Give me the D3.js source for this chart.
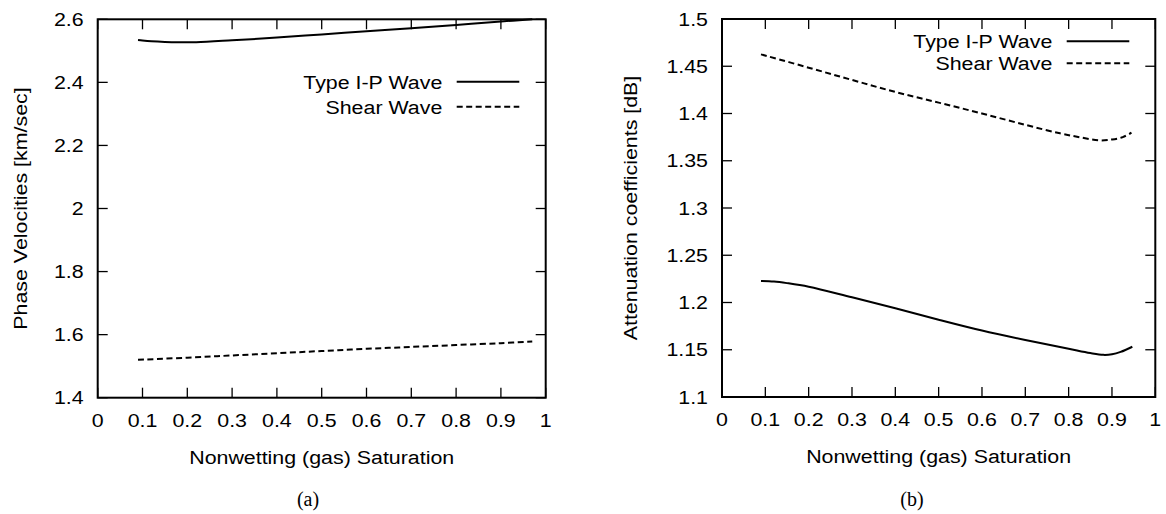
<!DOCTYPE html>
<html>
<head>
<meta charset="utf-8">
<script src="https://cdn.jsdelivr.net/npm/d3@7"></script>
<style>
  body { margin: 0; background: #fff; }
  svg { display: block; }
</style>
</head>
<body>
<svg id="chart" width="1166" height="514"></svg>
<script>
// ---- data ----
var xTicks = [0, 0.1, 0.2, 0.3, 0.4, 0.5, 0.6, 0.7, 0.8, 0.9, 1];
var xTickLabels = ["0", "0.1", "0.2", "0.3", "0.4", "0.5", "0.6", "0.7", "0.8", "0.9", "1"];

// (a) phase velocities
var velTicks = [1.4, 1.6, 1.8, 2.0, 2.2, 2.4, 2.6];
var velTickLabels = ["1.4", "1.6", "1.8", "2", "2.2", "2.4", "2.6"];
var satVelP = [0.09, 0.1, 0.12, 0.15, 0.18, 0.22, 0.3, 0.4, 0.5, 0.6, 0.7, 0.8, 0.9, 0.97];
var velP = [2.534, 2.5325, 2.5302, 2.5282, 2.5273, 2.5276, 2.5335, 2.542, 2.552, 2.562, 2.572, 2.582, 2.593, 2.600];
var satVelS = [0.09, 0.2, 0.3, 0.4, 0.5, 0.6, 0.7, 0.8, 0.9, 0.97];
var velS = [1.520, 1.527, 1.534, 1.541, 1.548, 1.555, 1.561, 1.567, 1.573, 1.578];

// (b) attenuation
var attTicks = [1.1, 1.15, 1.2, 1.25, 1.3, 1.35, 1.4, 1.45, 1.5];
var attTickLabels = ["1.1", "1.15", "1.2", "1.25", "1.3", "1.35", "1.4", "1.45", "1.5"];
var satAttP = [0.09, 0.12, 0.15, 0.2, 0.3, 0.4, 0.5, 0.6, 0.7, 0.8, 0.85, 0.88, 0.9, 0.92, 0.947];
var attP = [1.2228, 1.2222, 1.2205, 1.2167, 1.2055, 1.194, 1.1818, 1.1703, 1.1603, 1.1511, 1.1465, 1.1446, 1.1452, 1.1477, 1.1532];
var satAttS = [0.09, 0.2, 0.3, 0.4, 0.5, 0.6, 0.7, 0.78, 0.83, 0.87, 0.9, 0.925, 0.945];
var attS = [1.4626, 1.4485, 1.4355, 1.4228, 1.4115, 1.400, 1.388, 1.379, 1.3745, 1.3716, 1.3725, 1.375, 1.3797];

var legendNames = ["Type I-P Wave", "Shear Wave"];

var svg = d3.select("#chart");
var FONT = "'Liberation Sans', Arial, Helvetica, sans-serif";
var FS = 18.6;      // glyph height
var SX = 1.15;      // glyphs are wider than plain Helvetica

function label(g, x, y, str, anchor, rot) {
    g.append("text")
        .attr("transform", "translate(" + x + "," + y + ")" + (rot ? " rotate(-90)" : "") + " scale(" + SX + ",1)")
        .attr("text-anchor", anchor)
        .attr("font-family", FONT)
        .attr("font-size", FS)
        .attr("fill", "#000")
        .text(str);
}

function zip(xs, ys) {
    return xs.map(function (v, i) { return [v, ys[i]]; });
}

function panel(p) {
    var g = svg.append("g");
    var x = d3.scaleLinear().domain([0, 1]).range([p.left, p.right]);
    var y = d3.scaleLinear().domain(p.yDomain).range([p.bottom, p.top]);
    var tl = 10;

    // ticks, mirrored on all sides, pointing inward
    var tk = g.append("g").attr("stroke", "#000").attr("stroke-width", 1.3);
    xTicks.forEach(function (t) {
        tk.append("line").attr("x1", x(t)).attr("x2", x(t)).attr("y1", p.bottom).attr("y2", p.bottom - tl);
        tk.append("line").attr("x1", x(t)).attr("x2", x(t)).attr("y1", p.top).attr("y2", p.top + tl);
    });
    p.yTicks.forEach(function (t) {
        tk.append("line").attr("x1", p.left).attr("x2", p.left + tl).attr("y1", y(t)).attr("y2", y(t));
        tk.append("line").attr("x1", p.right).attr("x2", p.right - tl).attr("y1", y(t)).attr("y2", y(t));
    });

    // frame
    g.append("rect")
        .attr("x", p.left).attr("y", p.top)
        .attr("width", p.right - p.left).attr("height", p.bottom - p.top)
        .attr("fill", "none").attr("stroke", "#000").attr("stroke-width", 2);

    xTicks.forEach(function (t, i) {
        label(g, x(t), p.bottom + 29, xTickLabels[i], "middle");
    });
    p.yTicks.forEach(function (t, i) {
        label(g, p.left - 14, y(t) + 6.7, p.yTickLabels[i], "end");
    });

    label(g, (p.left + p.right) / 2, p.bottom + 66, "Nonwetting (gas) Saturation", "middle");
    label(g, p.yTitleX, (p.top + p.bottom) / 2, p.yTitle, "middle", true);

    g.append("text")
        .attr("x", p.captionX).attr("y", 506)
        .attr("text-anchor", "middle")
        .attr("font-family", "'Liberation Serif', 'DejaVu Serif', serif")
        .attr("font-size", 20)
        .text(p.caption);

    var line = d3.line()
        .x(function (d) { return x(d[0]); })
        .y(function (d) { return y(d[1]); })
        .curve(d3.curveCatmullRom.alpha(0.5));

    var dashes = [null, "6,3.5"];
    p.series.forEach(function (s, i) {
        g.append("path")
            .datum(s)
            .attr("d", line)
            .attr("fill", "none")
            .attr("stroke", "#000")
            .attr("stroke-width", 2)
            .attr("stroke-dasharray", dashes[i]);

        var ly = p.legendY + i * p.legendStep;
        label(g, p.legendTextX, ly + 7, legendNames[i], "end");
        g.append("line")
            .attr("x1", p.legendLine[0]).attr("x2", p.legendLine[1])
            .attr("y1", ly).attr("y2", ly)
            .attr("stroke", "#000").attr("stroke-width", 2)
            .attr("stroke-dasharray", dashes[i]);
    });
}

panel({
    left: 97.7, right: 545.7, top: 19.3, bottom: 397.7,
    yDomain: [1.4, 2.6], yTicks: velTicks, yTickLabels: velTickLabels,
    yTitle: "Phase Velocities [km/sec]", yTitleX: 27,
    caption: "(a)", captionX: 308,
    series: [zip(satVelP, velP), zip(satVelS, velS)],
    legendY: 81.7, legendStep: 25, legendTextX: 442.3, legendLine: [456.7, 519.3]
});

panel({
    left: 722, right: 1155.3, top: 19, bottom: 397,
    yDomain: [1.1, 1.5], yTicks: attTicks, yTickLabels: attTickLabels,
    yTitle: "Attenuation coefficients [dB]", yTitleX: 637,
    caption: "(b)", captionX: 912,
    series: [zip(satAttP, attP), zip(satAttS, attS)],
    legendY: 41.3, legendStep: 22, legendTextX: 1052.3, legendLine: [1066.7, 1129.3]
});
</script>
</body>
</html>
